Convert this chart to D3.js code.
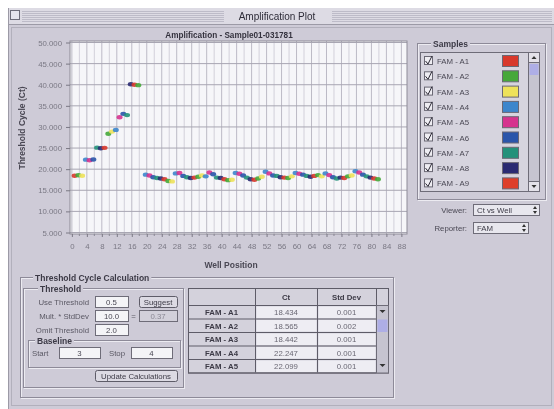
<!DOCTYPE html>
<html>
<head>
<meta charset="utf-8">
<script src="https://cdn.jsdelivr.net/npm/d3@7"></script>
<style>
  body { margin: 0; background: #ffffff; }
  svg { display: block; font-family: "Liberation Sans", Arial, sans-serif; filter: blur(0.35px); }
</style>
</head>
<body>
<svg id="win" width="554" height="409"></svg>
<script>
// well positions with a Ct value (well 19 has none)
const wells = [1, 2, 3, 4, 5, 6, 7, 8, 9, 10, 11, 12, 13, 14, 15, 16, 17, 18,
  20, 21, 22, 23, 24, 25, 26, 27, 28, 29, 30, 31, 32, 33, 34, 35,
  36, 37, 38, 39, 40, 41, 42, 43, 44, 45, 46, 47, 48, 49, 50, 51,
  52, 53, 54, 55, 56, 57, 58, 59, 60, 61, 62, 63, 64, 65, 66, 67,
  68, 69, 70, 71, 72, 73, 74, 75, 76, 77, 78, 79, 80, 81, 82];
const ctValues = [18.43, 18.57, 18.44, 22.25, 22.10, 22.30, 25.10, 24.95, 25.05,
  28.4, 28.9, 29.3, 32.3, 33.1, 32.8, 40.1, 40.0, 39.9,
  18.7, 18.5, 18.1, 17.9, 17.8, 17.6, 17.2, 17.1,
  19.0, 19.1, 18.4, 18.1, 17.9, 18.0, 18.2, 18.5,
  18.3, 19.2, 18.8, 18.0, 17.9, 17.6, 17.4, 17.5,
  19.1, 18.9, 18.5, 18.0, 17.6, 17.5, 17.8, 18.2,
  19.4, 19.0, 18.5, 18.4, 18.1, 18.0, 17.9, 18.3,
  19.1, 18.9, 18.7, 18.4, 18.2, 18.4, 18.6, 18.3,
  19.0, 18.6, 18.1, 17.8, 18.0, 17.9, 18.3, 18.5,
  19.5, 19.2, 18.7, 18.3, 18.0, 17.8, 17.6];
const yTicks = [5, 10, 15, 20, 25, 30, 35, 40, 45, 50];
const xTicks = [0, 4, 8, 12, 16, 20, 24, 28, 32, 36, 40, 44, 48, 52, 56, 60, 64, 68, 72, 76, 80, 84, 88];

const sampleNames = ["FAM - A1", "FAM - A2", "FAM - A3", "FAM - A4", "FAM - A5", "FAM - A6", "FAM - A7", "FAM - A8", "FAM - A9"];
const sampleColors = ["#d8392c", "#46a83a", "#eee25a", "#3d86cc", "#d6338e", "#2a55aa", "#23917a", "#2a2a72", "#de3f2a"];

const tableRows = ["FAM - A1", "FAM - A2", "FAM - A3", "FAM - A4", "FAM - A5"];
const tableCt = ["18.434", "18.565", "18.442", "22.247", "22.099"];
const tableStd = ["0.001", "0.002", "0.001", "0.001", "0.001"];

const svg = d3.select("#win");
const BG = "#cecbd7";
const LINE = "#8d8a98";
const FS = 7.8;

// window
svg.append("rect").attr("x", 8).attr("y", 8).attr("width", 546).attr("height", 401).attr("fill", BG);
// title bar stripes
svg.append("rect").attr("x", 8).attr("y", 8).attr("width", 546).attr("height", 16).attr("fill", "#dddbe4");
for (let yy = 11; yy < 22; yy += 2) {
  svg.append("line").attr("x1", 22).attr("x2", 552).attr("y1", yy + 0.5).attr("y2", yy + 0.5)
    .attr("stroke", "#bdbbc8").attr("stroke-width", 1);
}
svg.append("rect").attr("x", 10.5).attr("y", 10.5).attr("width", 9).attr("height", 9)
  .attr("fill", "#e6e4ec").attr("stroke", "#6e6c78");
svg.append("rect").attr("x", 224).attr("y", 9).attr("width", 108).attr("height", 14).attr("fill", "#dddbe4");
svg.append("text").attr("x", 277).attr("y", 20).attr("text-anchor", "middle")
  .attr("font-size", 10).attr("fill", "#2e2c38").text("Amplification Plot");
svg.append("line").attr("x1", 8).attr("x2", 554).attr("y1", 24.5).attr("y2", 24.5).attr("stroke", "#9c9aa6");
svg.append("rect").attr("x", 11.5).attr("y", 27.5).attr("width", 540).attr("height", 378)
  .attr("fill", "none").attr("stroke", "#b2b0bc");
svg.append("line").attr("x1", 8.5).attr("x2", 8.5).attr("y1", 8).attr("y2", 409).attr("stroke", "#9c9aa6");

// plot
const x = d3.scaleLinear().domain([-0.5, 89.5]).range([70, 407]);
const y = d3.scaleLinear().domain([5, 50]).range([232.5, 42.5]);
const plotTop = 41, plotBottom = 234;

svg.append("rect").attr("x", 70).attr("y", plotTop).attr("width", 337).attr("height", plotBottom - plotTop)
  .attr("fill", "#f6f6f9");
svg.append("g").selectAll("line").data(d3.range(0, 90, 2)).join("line")
  .attr("x1", d => x(d)).attr("x2", d => x(d)).attr("y1", plotTop).attr("y2", plotBottom)
  .attr("stroke", d => d % 4 === 0 ? "#bcbac6" : "#d2d0da").attr("stroke-width", 1);
svg.append("g").selectAll("line").data(yTicks).join("line")
  .attr("x1", 70).attr("x2", 407).attr("y1", d => y(d)).attr("y2", d => y(d))
  .attr("stroke", "#a8a6b2").attr("stroke-width", 1);
svg.append("rect").attr("x", 70).attr("y", plotTop).attr("width", 337).attr("height", plotBottom - plotTop)
  .attr("fill", "none").attr("stroke", "#8e8c98");

const yAxis = svg.append("g").attr("transform", "translate(70,0)")
  .call(d3.axisLeft(y).tickValues(yTicks).tickFormat(d3.format(".3f")).tickSize(4).tickPadding(4));
yAxis.select(".domain").remove();
yAxis.selectAll("line").attr("stroke", "#7a7884");
yAxis.selectAll("text").attr("font-size", FS).attr("fill", "#7a7884").attr("font-family", "Liberation Sans, Arial");

const xAxis = svg.append("g").attr("transform", `translate(0,${plotBottom})`)
  .call(d3.axisBottom(x).tickValues(xTicks).tickSize(3).tickPadding(6));
xAxis.select(".domain").remove();
xAxis.selectAll("line").attr("stroke", "#7a7884");
xAxis.selectAll("text").attr("font-size", FS).attr("fill", "#7a7884").attr("font-family", "Liberation Sans, Arial");
svg.append("g").selectAll("line").data(d3.range(2, 90, 4)).join("line")
  .attr("x1", d => x(d)).attr("x2", d => x(d)).attr("y1", plotBottom).attr("y2", plotBottom + 2)
  .attr("stroke", "#8a8894");

svg.append("text").attr("x", 229).attr("y", 38).attr("text-anchor", "middle")
  .attr("font-size", 8.2).attr("font-weight", "bold").attr("fill", "#34323e")
  .text("Amplification - Sample01-031781");
svg.append("text").attr("transform", "translate(25,128) rotate(-90)").attr("text-anchor", "middle")
  .attr("font-size", 8.5).attr("font-weight", "bold").attr("fill", "#4a4854").text("Threshold Cycle (Ct)");
svg.append("text").attr("x", 231).attr("y", 268).attr("text-anchor", "middle")
  .attr("font-size", 8.5).attr("font-weight", "bold").attr("fill", "#4a4854").text("Well Position");

svg.append("g").selectAll("ellipse").data(wells).join("ellipse")
  .attr("cx", d => x(d) - 1).attr("cy", (d, i) => y(ctValues[i]))
  .attr("rx", 3).attr("ry", 2.2)
  .attr("fill", d => sampleColors[(d - 1) % 8]).attr("opacity", 0.9);

// group box helper
function groupBox(gx, gy, w, h, title, tx, fs) {
  svg.append("rect").attr("x", gx + 1.5).attr("y", gy + 1.5).attr("width", w).attr("height", h)
    .attr("fill", "none").attr("stroke", "#ecebf1");
  svg.append("rect").attr("x", gx + 0.5).attr("y", gy + 0.5).attr("width", w).attr("height", h)
    .attr("fill", "none").attr("stroke", LINE);
  const back = svg.append("rect").attr("y", gy - 3).attr("height", 7).attr("fill", BG);
  const t = svg.append("text").attr("x", tx).attr("y", gy + 3.5).attr("font-size", fs || 8.5).attr("font-weight", "bold")
    .attr("fill", "#3c3a46").text(title);
  const bw = t.node().getComputedTextLength();
  back.attr("x", tx - 2).attr("width", bw + 4);
}

// Samples panel
groupBox(417, 43, 128, 156, "Samples", 433);
svg.append("rect").attr("x", 420.5).attr("y", 52.5).attr("width", 119).attr("height", 139)
  .attr("fill", "#d6d4de").attr("stroke", "#6e6c78");
svg.append("rect").attr("x", 528.5).attr("y", 52.5).attr("width", 11).attr("height", 139)
  .attr("fill", "#c6c4d0").attr("stroke", "#6e6c78");
svg.append("rect").attr("x", 528.5).attr("y", 52.5).attr("width", 11).attr("height", 10).attr("fill", "#e4e2ea").attr("stroke", "#6e6c78");
svg.append("rect").attr("x", 528.5).attr("y", 181.5).attr("width", 11).attr("height", 10).attr("fill", "#e4e2ea").attr("stroke", "#6e6c78");
svg.append("path").attr("d", "M531.5,59 L536.5,59 L534,56 Z").attr("fill", "#333");
svg.append("path").attr("d", "M531.5,185 L536.5,185 L534,188 Z").attr("fill", "#333");
svg.append("rect").attr("x", 529.5).attr("y", 64).attr("width", 9).attr("height", 11).attr("fill", "#aeaee6");

const rows = svg.append("g").selectAll("g").data(sampleNames).join("g")
  .attr("transform", (d, i) => `translate(0,${61 + i * 15.3})`);
rows.append("rect").attr("x", 424.5).attr("y", -4.5).attr("width", 8).attr("height", 8)
  .attr("fill", "#eeedf2").attr("stroke", "#6a6874");
rows.append("path").attr("d", "M425.5,0 L428,3 L432,-5").attr("fill", "none").attr("stroke", "#2a2834").attr("stroke-width", 1);
rows.append("text").attr("x", 437).attr("y", 3).attr("font-size", FS).attr("fill", "#4a4854").text(d => d);
rows.append("rect").attr("x", 502.5).attr("y", -5.5).attr("width", 16).attr("height", 11)
  .attr("fill", (d, i) => sampleColors[i]).attr("stroke", "#6a6874");

// Viewer / Reporter popups
function popup(label, ly, px, pw, val) {
  svg.append("text").attr("x", 467).attr("y", ly + 3).attr("text-anchor", "end")
    .attr("font-size", FS).attr("fill", "#4a4854").text(label);
  svg.append("rect").attr("x", px + 0.5).attr("y", ly - 5.5).attr("width", pw).attr("height", 11)
    .attr("fill", "#e8e7ee").attr("stroke", "#6e6c78");
  svg.append("text").attr("x", px + 4).attr("y", ly + 3).attr("font-size", FS).attr("fill", "#3c3a46").text(val);
  svg.append("path").attr("d", `M${px + pw - 6},${ly - 1} l2,-3 l2,3 Z M${px + pw - 6},${ly + 1} l2,3 l2,-3 Z`).attr("fill", "#333");
}
popup("Viewer:", 210, 473, 66, "Ct vs Well");
popup("Reporter:", 228, 473, 55, "FAM");

// Threshold Cycle Calculation
groupBox(20, 277, 373, 120, "Threshold Cycle Calculation", 35);
groupBox(23, 288, 160, 99, "Threshold", 40);

function field(fx, fy, w, val, dim) {
  svg.append("rect").attr("x", fx + 0.5).attr("y", fy + 0.5).attr("width", w).attr("height", 11)
    .attr("fill", dim ? "#d2d0da" : "#f4f4f7").attr("stroke", "#6e6c78");
  svg.append("text").attr("x", fx + w / 2).attr("y", fy + 9).attr("text-anchor", "middle")
    .attr("font-size", FS).attr("fill", dim ? "#8a8894" : "#4a4854").text(val);
}
function label(lx, ly, t, anchor) {
  svg.append("text").attr("x", lx).attr("y", ly).attr("text-anchor", anchor || "end")
    .attr("font-size", FS).attr("fill", "#5a5864").text(t);
}
function button(bx, by, w, t) {
  svg.append("rect").attr("x", bx + 0.5).attr("y", by + 0.5).attr("width", w).attr("height", 11).attr("rx", 2)
    .attr("fill", "#dcdae3").attr("stroke", "#5e5c68");
  svg.append("text").attr("x", bx + w / 2).attr("y", by + 9).attr("text-anchor", "middle")
    .attr("font-size", FS).attr("fill", "#3c3a46").text(t);
}
label(89, 305, "Use Threshold");
field(95, 296, 33, "0.5");
button(139, 296, 38, "Suggest");
label(89, 319, "Mult. * StdDev");
field(95, 310, 33, "10.0");
label(133.5, 319, "=", "middle");
field(139, 310, 38, "0.37", true);
label(89, 333, "Omit Threshold");
field(95, 324, 33, "2.0");
groupBox(28, 340, 152, 27, "Baseline", 37);
label(32, 356, "Start", "start");
field(59, 347, 41, "3");
label(109, 356, "Stop", "start");
field(131, 347, 41, "4");
button(95, 370, 82, "Update Calculations");

// table
const tx0 = 188, tw = [67, 62, 59, 12], ty0 = 288, hh = 17, rh = 13.5;
const colX = [tx0, tx0 + tw[0], tx0 + tw[0] + tw[1], tx0 + tw[0] + tw[1] + tw[2]];
const tH = hh + rh * tableRows.length;
svg.append("rect").attr("x", tx0 + 0.5).attr("y", ty0 + 0.5).attr("width", 200).attr("height", tH)
  .attr("fill", "#d4d2dc").attr("stroke", "#5e5c68");
svg.append("text").attr("x", colX[1] + tw[1] / 2).attr("y", ty0 + 11.5).attr("text-anchor", "middle")
  .attr("font-size", FS).attr("font-weight", "bold").attr("fill", "#3c3a46").text("Ct");
svg.append("text").attr("x", colX[2] + tw[2] / 2).attr("y", ty0 + 11.5).attr("text-anchor", "middle")
  .attr("font-size", FS).attr("font-weight", "bold").attr("fill", "#3c3a46").text("Std Dev");
const trows = svg.append("g").selectAll("g").data(tableRows).join("g")
  .attr("transform", (d, i) => `translate(0,${ty0 + hh + i * rh})`);
trows.append("rect").attr("x", colX[1] + 1.5).attr("y", 1.5).attr("width", tw[1] - 2).attr("height", rh - 2)
  .attr("fill", "#eeedf3");
trows.append("rect").attr("x", colX[2] + 1.5).attr("y", 1.5).attr("width", tw[2] - 2).attr("height", rh - 2)
  .attr("fill", "#eeedf3");
trows.append("text").attr("x", colX[0] + tw[0] / 2).attr("y", 10).attr("text-anchor", "middle")
  .attr("font-size", FS).attr("font-weight", "bold").attr("fill", "#3c3a46").text(d => d);
trows.append("text").attr("x", colX[1] + tw[1] / 2).attr("y", 10).attr("text-anchor", "middle")
  .attr("font-size", FS).attr("fill", "#6a6874").text((d, i) => tableCt[i]);
trows.append("text").attr("x", colX[2] + tw[2] / 2).attr("y", 10).attr("text-anchor", "middle")
  .attr("font-size", FS).attr("fill", "#6a6874").text((d, i) => tableStd[i]);
// grid lines of table
svg.append("g").selectAll("line").data(d3.range(tableRows.length + 1)).join("line")
  .attr("x1", tx0).attr("x2", colX[3]).attr("y1", i => ty0 + hh + i * rh + 0.5).attr("y2", i => ty0 + hh + i * rh + 0.5)
  .attr("stroke", "#5e5c68");
svg.append("g").selectAll("line").data(colX.slice(1)).join("line")
  .attr("x1", d => d + 0.5).attr("x2", d => d + 0.5).attr("y1", ty0).attr("y2", ty0 + tH)
  .attr("stroke", "#5e5c68");
// table scrollbar
svg.append("rect").attr("x", colX[3] + 0.5).attr("y", ty0 + hh + 0.5).attr("width", 12).attr("height", rh * 5)
  .attr("fill", "#c6c4d0").attr("stroke", "#6e6c78");
svg.append("rect").attr("x", colX[3] + 1.5).attr("y", ty0 + hh + rh + 1).attr("width", 10).attr("height", rh - 1).attr("fill", "#aeaee6");
svg.append("path").attr("d", `M${colX[3] + 3.5},${ty0 + hh + 5} l3,3 l3,-3 Z`).attr("fill", "#333");
svg.append("path").attr("d", `M${colX[3] + 3.5},${ty0 + hh + 4 * rh + 5} l3,3 l3,-3 Z`).attr("fill", "#333");
</script>
</body>
</html>
